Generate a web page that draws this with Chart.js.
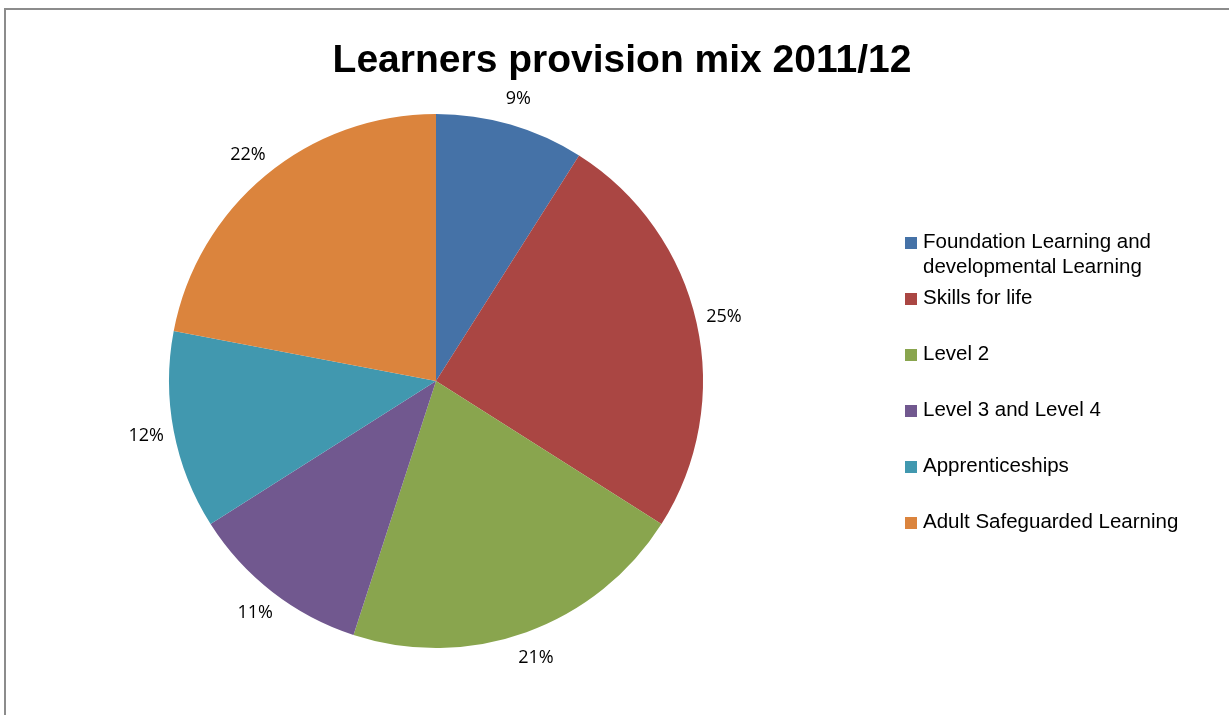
<!DOCTYPE html>
<html>
<head>
<meta charset="utf-8">
<title>Learners provision mix 2011/12</title>
<script src="https://cdn.jsdelivr.net/npm/chart.js@4/dist/chart.umd.min.js"></script>
<style>
  html, body { margin: 0; padding: 0; background: #fff; }
  #wrap { position: relative; width: 1229px; height: 715px; overflow: hidden; }
  #frame {
    position: absolute; left: 4px; top: 8px; right: -10px; bottom: -10px;
    border-left: 2px solid #8c8c8c; border-top: 2px solid #8c8c8c;
  }
  canvas { position: absolute; left: 0; top: 0; }
</style>
</head>
<body>
<div id="wrap">
  <div id="frame"></div>
  <canvas id="pieChart"></canvas>
</div>
<script>
/* ---------- Data ---------- */
const chartTitle = 'Learners provision mix 2011/12';
const categories = [
  'Foundation Learning and developmental Learning',
  'Skills for life',
  'Level 2',
  'Level 3 and Level 4',
  'Apprenticeships',
  'Adult Safeguarded Learning'
];
const shares = [9, 25, 21, 11, 12, 22];     // percent
const sliceColors = ['#4572A7', '#AA4643', '#89A54E', '#71588F', '#4198AF', '#DB843D'];

/* ---------- Plugins ---------- */
// title centred over the whole chart
const titlePlugin = {
  id: 'bigTitle',
  afterDraw(chart) {
    const ctx = chart.ctx;
    ctx.save();
    ctx.font = 'bold 39px "Liberation Sans", Arial, sans-serif';
    ctx.fillStyle = '#000';
    ctx.textAlign = 'center';
    ctx.textBaseline = 'middle';
    ctx.fillText(chartTitle, 622, 61);
    ctx.restore();
  }
};

// percentage labels just outside each slice
const outsideLabels = {
  id: 'outsideLabels',
  afterDatasetsDraw(chart) {
    const ctx = chart.ctx;
    const meta = chart.getDatasetMeta(0);
    const total = chart.data.datasets[0].data.reduce((a, b) => a + b, 0);
    ctx.save();
    ctx.font = '18px "Open Sans", "Noto Sans", sans-serif';
    ctx.fillStyle = '#000';
    ctx.textAlign = 'center';
    ctx.textBaseline = 'middle';
    meta.data.forEach((arc, i) => {
      const p = arc.getProps(['x', 'y', 'startAngle', 'endAngle', 'outerRadius'], true);
      const a = (p.startAngle + p.endAngle) / 2;
      const ux = Math.cos(a), uy = Math.sin(a);
      const r = p.outerRadius + 18;
      const x = p.x + r * ux + 10 * ux;
      const y = p.y + r * uy + 9 * uy;
      const v = chart.data.datasets[0].data[i];
      ctx.fillText(Math.round(v / total * 100) + '%', x, y);
    });
    ctx.restore();
  }
};

// legend on the right, Excel-like wrapping
const sideLegend = {
  id: 'sideLegend',
  afterDraw(chart) {
    const ctx = chart.ctx;
    const labels = chart.data.labels;
    const colors = chart.data.datasets[0].backgroundColor;
    const rowY = [242, 298, 354, 410, 466, 522];   // first line centre of each entry
    const lineH = 25, maxW = 275, boxX = 905, textX = 923;
    ctx.save();
    ctx.font = '20.5px "Liberation Sans", Arial, sans-serif';
    ctx.textBaseline = 'middle';
    labels.forEach((lab, i) => {
      // wrap words
      const words = lab.split(' ');
      const lines = [];
      let cur = '';
      words.forEach(w => {
        const t = cur ? cur + ' ' + w : w;
        if (ctx.measureText(t).width > maxW && cur) { lines.push(cur); cur = w; }
        else cur = t;
      });
      if (cur) lines.push(cur);

      const y0 = rowY[i];
      ctx.fillStyle = colors[i];
      ctx.fillRect(boxX, y0 - 5, 12, 12);
      ctx.fillStyle = '#000';
      lines.forEach((ln, k) => ctx.fillText(ln, textX, y0 + k * lineH));
    });
    ctx.restore();
  }
};

/* ---------- Chart ---------- */
const canvas = document.getElementById('pieChart');
canvas.width = 1229;
canvas.height = 715;

new Chart(canvas, {
  type: 'pie',
  data: {
    labels: categories,
    datasets: [{
      data: shares,
      backgroundColor: sliceColors,
      borderWidth: 0,
      hoverOffset: 0
    }]
  },
  options: {
    responsive: false,
    animation: false,
    layout: { padding: { left: 169, top: 114, right: 526, bottom: 67 } },
    plugins: {
      legend: { display: false },
      title: { display: false },
      tooltip: { enabled: false }
    }
  },
  plugins: [outsideLabels, titlePlugin, sideLegend]
});
</script>
</body>
</html>
